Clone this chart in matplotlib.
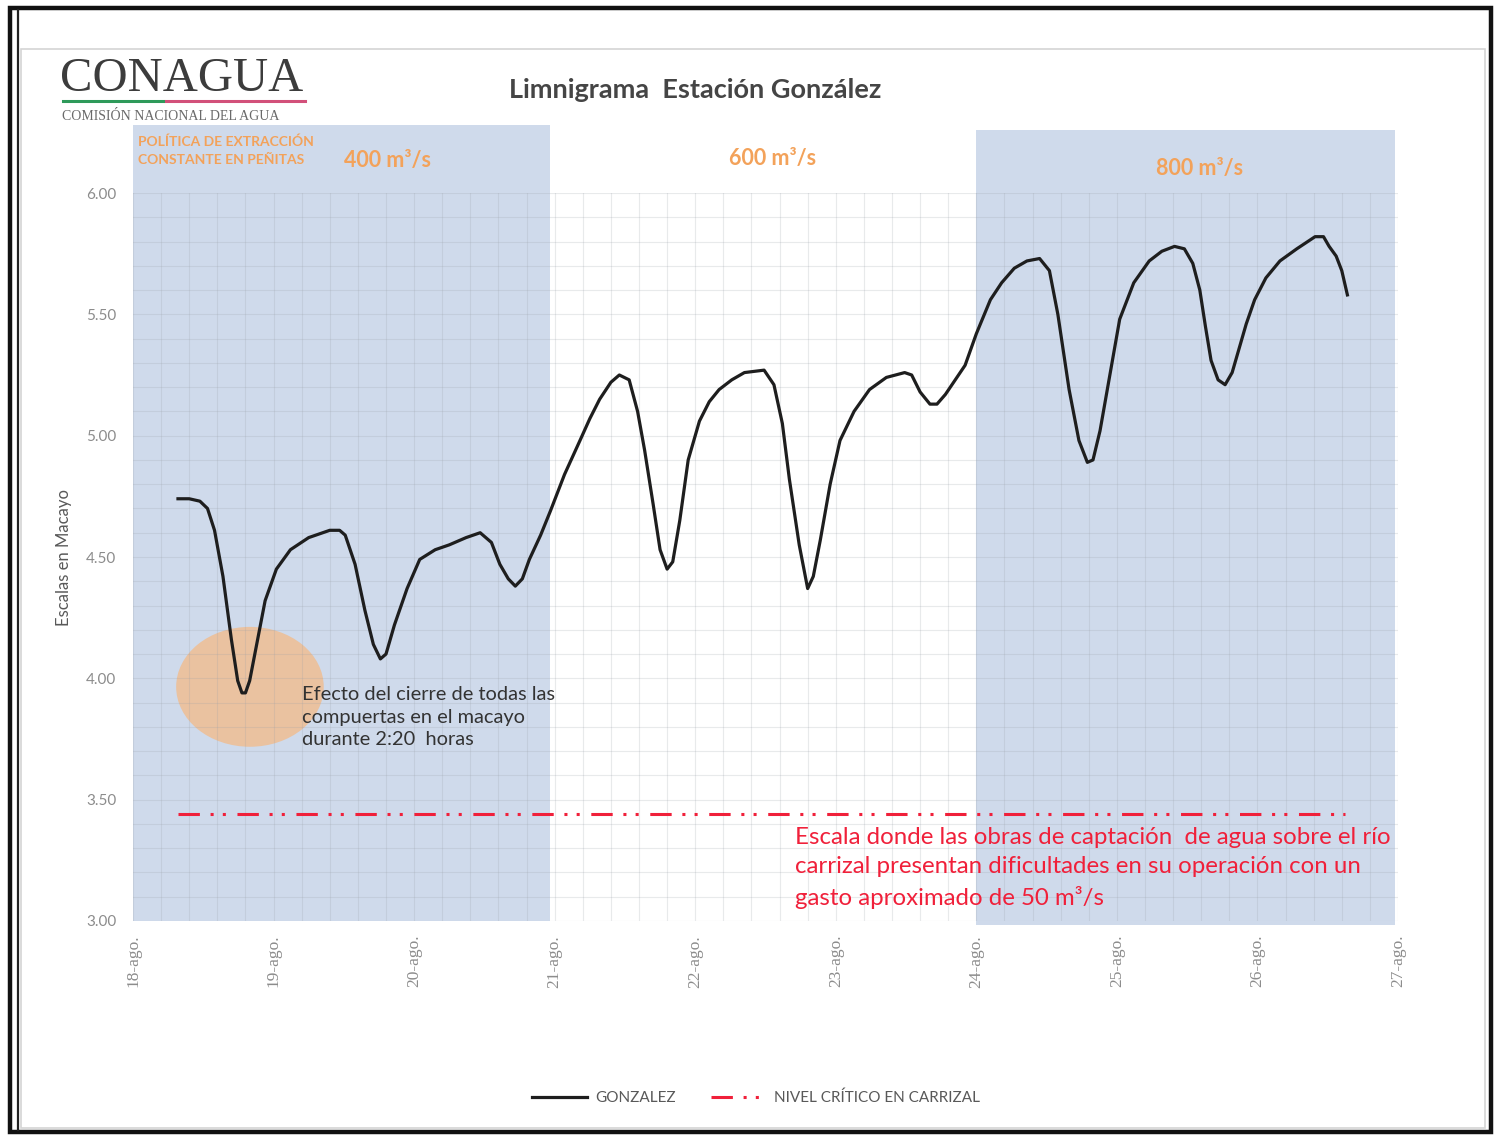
import numpy as np
import matplotlib.pyplot as plt
from matplotlib.patches import Rectangle, Ellipse
from matplotlib.lines import Line2D

plt.rcParams['font.family'] = ['Lato', 'DejaVu Sans']

# dias desde 18-ago (0 = 18-ago 00:00) y escala en Macayo
dias = [0.32, 0.40, 0.476, 0.53, 0.58, 0.64, 0.70, 0.745, 0.775, 0.80, 0.83, 0.88,
        0.94, 1.02, 1.12, 1.25, 1.40, 1.47, 1.51, 1.58, 1.65, 1.71, 1.76, 1.80,
        1.86, 1.95, 2.04, 2.15, 2.25, 2.37, 2.47, 2.55, 2.61, 2.67, 2.72, 2.77,
        2.82, 2.90, 2.97, 3.07, 3.18, 3.25, 3.32, 3.40, 3.46, 3.53, 3.59, 3.64,
        3.70, 3.75, 3.80, 3.84, 3.89, 3.95, 4.03, 4.10, 4.17, 4.26, 4.35, 4.49,
        4.56, 4.62, 4.67, 4.74, 4.80, 4.84, 4.89, 4.96, 5.03, 5.13, 5.24, 5.36,
        5.49, 5.54, 5.60, 5.67, 5.72, 5.78, 5.85, 5.92, 6.00, 6.10, 6.18, 6.27,
        6.36, 6.45, 6.52, 6.58, 6.66, 6.73, 6.79, 6.83, 6.88, 6.95, 7.02, 7.12,
        7.23, 7.32, 7.41, 7.48, 7.54, 7.59, 7.63, 7.67, 7.72, 7.77, 7.82, 7.87,
        7.92, 7.98, 8.06, 8.16, 8.28, 8.41, 8.47, 8.51, 8.56, 8.60, 8.64]
nivel = [4.74, 4.74, 4.73, 4.70, 4.61, 4.42, 4.16, 3.99, 3.94, 3.94, 3.99, 4.14,
         4.32, 4.45, 4.53, 4.58, 4.61, 4.61, 4.59, 4.47, 4.28, 4.14, 4.08, 4.10,
         4.22, 4.37, 4.49, 4.53, 4.55, 4.58, 4.60, 4.56, 4.47, 4.41, 4.38, 4.41,
         4.49, 4.59, 4.69, 4.84, 4.98, 5.07, 5.15, 5.22, 5.25, 5.23, 5.10, 4.94,
         4.72, 4.53, 4.45, 4.48, 4.65, 4.90, 5.06, 5.14, 5.19, 5.23, 5.26, 5.27,
         5.21, 5.05, 4.82, 4.55, 4.37, 4.42, 4.57, 4.80, 4.98, 5.10, 5.19, 5.24,
         5.26, 5.25, 5.18, 5.13, 5.13, 5.17, 5.23, 5.29, 5.42, 5.56, 5.63, 5.69,
         5.72, 5.73, 5.68, 5.50, 5.19, 4.98, 4.89, 4.90, 5.02, 5.25, 5.48, 5.63,
         5.72, 5.76, 5.78, 5.77, 5.71, 5.60, 5.45, 5.31, 5.23, 5.21, 5.26, 5.36,
         5.46, 5.56, 5.65, 5.72, 5.77, 5.82, 5.82, 5.78, 5.74, 5.68, 5.58]

critico_x = [0.32, 8.62]
critico_y = [3.44, 3.44]

etiquetas_x = ['18-ago.', '19-ago.', '20-ago.', '21-ago.', '22-ago.',
               '23-ago.', '24-ago.', '25-ago.', '26-ago.', '27-ago.']
politicas = ['400 m³/s', '600 m³/s', '800 m³/s']

W, H = 1495, 1136
fig = plt.figure(figsize=(W / 100, H / 100), dpi=100)
fig.patch.set_facecolor('white')
ax = fig.add_axes([133 / W, 1 - 921 / H, (1398 - 133) / W, (921 - 193) / H])
ax.set_xlim(0, 9)
ax.set_ylim(3.0, 6.0)
for s in ax.spines.values():
    s.set_visible(False)

azul = '#cfdaeb'
ax.add_patch(Rectangle((0, 3.0), 2.966, 3.28, facecolor=azul, edgecolor='none',
                       zorder=0.2, clip_on=False))
ax.add_patch(Rectangle((5.996, 2.985), 2.98, 3.275, facecolor=azul, edgecolor='none',
                       zorder=0.2, clip_on=False))

ax.set_xticks(np.arange(0, 10))
ax.set_xticks(np.arange(0, 9.01, 0.2), minor=True)
ax.set_yticks(np.arange(3.0, 6.01, 0.5))
ax.set_yticks(np.arange(3.0, 6.01, 0.1), minor=True)
ax.grid(True, which='both', color='#9aa0a8', alpha=0.22, lw=0.8)
ax.set_axisbelow(True)
ax.set_xticklabels(etiquetas_x, rotation=90, fontsize=12.5, color='#8c8c8c',
                   family='Liberation Serif')
ax.set_yticklabels(['%.2f' % v for v in np.arange(3.0, 6.01, 0.5)],
                   fontsize=11, color='#8c8c8c')
ax.tick_params(length=0, which='both', pad=12)
ax.tick_params(axis='x', pad=10)
ax.set_ylabel('Escalas en Macayo', fontsize=12, color='#595959', labelpad=10)

ax.add_patch(Ellipse((0.832, 3.965), 1.05, 0.494, facecolor='#eac2a0',
                     edgecolor='none', zorder=0.4))

ax.plot(dias, nivel, color='#1e1e1e', lw=2.3, zorder=3, label='GONZALEZ',
        solid_joinstyle='round')
ax.plot(critico_x, critico_y, color='#f0203a', lw=2.2, zorder=3,
        dashes=(7, 3.5, 1, 3, 1, 3.8), label='NIVEL CRÍTICO EN CARRIZAL')

# textos
fig.text(695 / W, 1 - 90 / H, 'Limnigrama  Estación González', ha='center',
         va='center', fontsize=19.5, fontweight='bold', color='#454545')
fig.text(60 / W, 1 - 79 / H, 'CONAGUA', ha='left', va='center', fontsize=35,
         family='Liberation Serif', color='#3c3c3c')
fig.add_artist(Line2D([63 / W, 163 / W], [1 - 101 / H] * 2, color='#2e9a5a', lw=2.2))
fig.add_artist(Line2D([166 / W, 305 / W], [1 - 101 / H] * 2, color='#d2507a', lw=2.2))
fig.text(62 / W, 1 - 116 / H, 'COMISIÓN NACIONAL DEL AGUA', ha='left', va='center',
         fontsize=10, family='Liberation Serif', color='#6a6a6a')

naranja = '#f3a25a'
fig.text(138 / W, 1 - 151 / H, 'POLÍTICA DE EXTRACCIÓN\nCONSTANTE EN PEÑITAS', ha='left',
         va='center', fontsize=10, fontweight='bold', color=naranja, linespacing=1.6)
for x, y, t in zip([388, 773, 1200], [160, 158, 168], politicas):
    fig.text(x / W, 1 - y / H, t, ha='center', va='center', fontsize=15.5,
             fontweight='bold', color=naranja)

fig.text(302 / W, 1 - 717 / H,
         'Efecto del cierre de todas las\ncompuertas en el macayo\ndurante 2:20  horas',
         ha='left', va='center', fontsize=14.4, color='#333333', linespacing=1.4)
fig.text(795 / W, 1 - 868 / H,
         'Escala donde las obras de captación  de agua sobre el río\n'
         'carrizal presentan dificultades en su operación con un\n'
         'gasto aproximado de 50 m³/s',
         ha='left', va='center', fontsize=17.3, color='#f0203a', linespacing=1.45)

fig.legend(loc='center', bbox_to_anchor=(756 / W, 1 - 1098 / H), ncol=2,
           frameon=False, fontsize=11, labelcolor='#595959', handlelength=3.6,
           columnspacing=2.3, handletextpad=0.5)

# marcos de la hoja escaneada
fig.add_artist(Rectangle((10 / W, 1 - 1132 / H), 1481 / W, 1124 / H, fill=False,
                         edgecolor='#111111', lw=3.2))
fig.add_artist(Line2D([18 / W] * 2, [1 - 1130 / H, 1 - 10 / H], color='#222222', lw=1.6))
fig.add_artist(Rectangle((21 / W, 1 - 1128 / H), 1464 / W, 1079 / H, fill=False,
                         edgecolor='#d4d4d4', lw=1.2))

fig.savefig('out.png', dpi=100)
